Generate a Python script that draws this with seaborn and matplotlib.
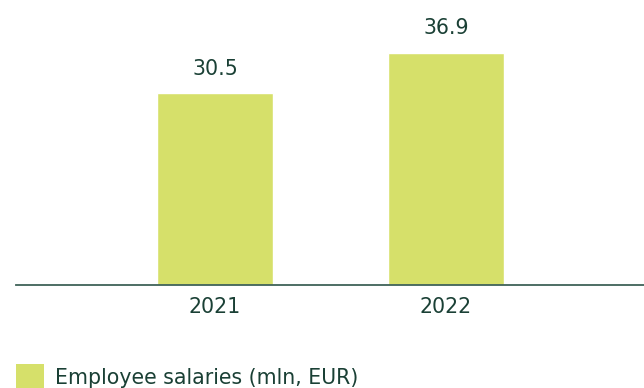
import matplotlib
matplotlib.use("Agg")
import matplotlib.pyplot as plt
from matplotlib.patches import Rectangle
import seaborn as sns
import pandas as pd

years = ["2021", "2022"]
salaries = [30.5, 36.9]
series_label = "Employee salaries (mln, EUR)"

BAR_COLOR = "#d6e06a"
TEXT_COLOR = "#1a4035"
AXIS_COLOR = "#3f6258"
FONT_SIZE = 14.8

sns.set_theme(style="white")
plt.rcParams["font.family"] = ["DejaVu Sans"]

df = pd.DataFrame({"year": years, "value": salaries})

fig = plt.figure(figsize=(6.44, 3.88), dpi=100)
W, H = 644, 388
# axes spans from x=16 to the right edge, baseline at y=285 px
ax = fig.add_axes([16 / W, (H - 285) / H, (W - 16) / W, 285 / H])

sns.barplot(data=df, x="year", y="value", color=BAR_COLOR, width=0.502,
            saturation=1, ax=ax)

ax.set_xlim(-0.861, 1.857)
ax.set_ylim(0, 45.3)

for i, v in enumerate(salaries):
    ax.annotate(f"{v:.1f}", xy=(i, v), xytext=(0, 10.5), textcoords="offset points",
                ha="center", va="bottom", fontsize=FONT_SIZE, color=TEXT_COLOR)

for side in ["top", "right", "left"]:
    ax.spines[side].set_visible(False)
ax.spines["bottom"].set_color(AXIS_COLOR)
ax.spines["bottom"].set_linewidth(1.3)

ax.set_yticks([])
ax.set_xlabel("")
ax.set_ylabel("")
ax.tick_params(axis="x", length=0, pad=8.5, labelsize=FONT_SIZE, labelcolor=TEXT_COLOR)

# legend: swatch plus label below the chart
fig.patches.append(Rectangle((16 / W, (H - 392) / H), 28 / W, 28 / H,
                             transform=fig.transFigure, facecolor=BAR_COLOR,
                             edgecolor="none"))
fig.text(55 / W, (H - 377.5) / H, series_label, ha="left", va="center",
         fontsize=FONT_SIZE, color=TEXT_COLOR)

fig.savefig("out.png", dpi=100)
